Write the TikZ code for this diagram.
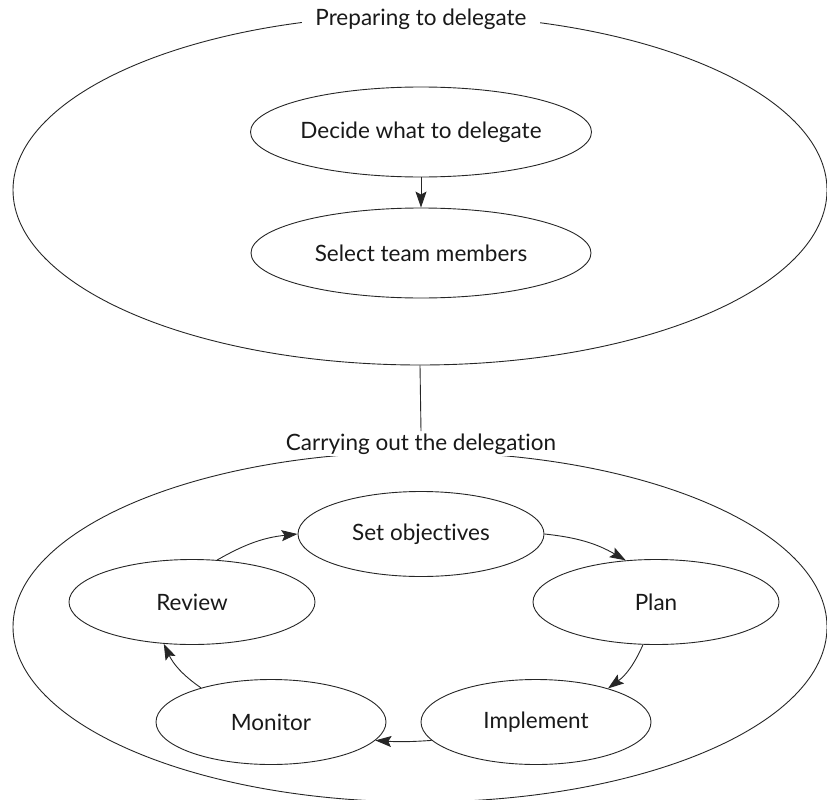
\documentclass[tikz,border=0pt]{standalone}
\usepackage{fontspec}
\setmainfont{Lato}[Ligatures=NoCommon]
\usetikzlibrary{shapes.geometric,arrows.meta}
\begin{document}
\begin{tikzpicture}[x=1pt,y=-1pt,
  line width=0.9pt, draw=black!85,
  oval/.style={ellipse, draw, inner sep=0pt},
  bigoval/.style={oval, minimum width=814pt, minimum height=350pt},
  stage/.style={oval, minimum width=340pt, minimum height=90pt},
  stepoval/.style={oval, minimum width=246pt, minimum height=85pt},
  stepovalsm/.style={oval, minimum width=230pt, minimum height=85pt},
  heading/.style={fill=white, inner xsep=13pt, inner ysep=2pt},
  flow/.style={-{Stealth[length=16pt,width=11pt,inset=3pt]}},
  every node/.style={font=\fontsize{22.5}{27}\selectfont, text=black!90}]
\useasboundingbox (0,0) rectangle (827,800);

% outer groups
\node[bigoval] (prep) at (420,190) {};
\node[bigoval] (carry) at (420,627) {};
\node[heading] (preplbl) at (421,19) {Preparing to delegate};
\node[heading] (carrylbl) at (421,444) {Carrying out the delegation};
\draw (prep.south) -- (carrylbl.north);

% preparation steps
\node[stage] (decide) at (421,132) {Decide what to delegate};
\node[stage] (select) at (421,253) {Select team members};
\draw[flow] (decide.south) -- (select.north);

% delegation cycle
\node[stepoval] (setobj) at (421,534) {Set objectives};
\node[stepoval] (plan) at (656,602) {Plan};
\node[stepoval] (review) at (192,602) {Review};
\node[stepovalsm] (implement) at (536,722) {Implement};
\node[stepovalsm] (monitor) at (271,722) {Monitor};

\draw[flow] (review.59) to[bend left=12] (setobj.west);
\draw[flow] (setobj.east) to[bend left=12] (plan.126);
\draw[flow] (plan.253) to[bend left=15] (implement.25);
\draw[flow] (implement.190) to[bend left=4] (monitor.350);
\draw[flow] (monitor.154) to[bend left=15] (review.236);
\end{tikzpicture}
\end{document}
